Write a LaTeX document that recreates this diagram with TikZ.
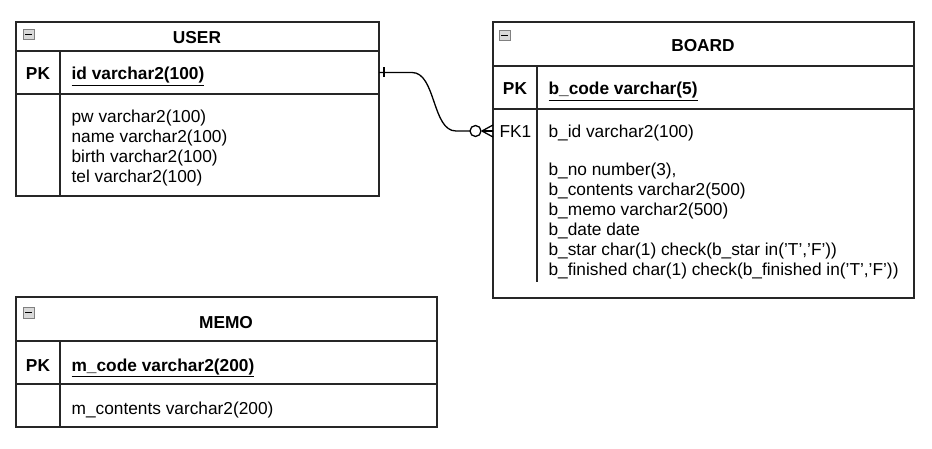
\documentclass[tikz,border=0pt]{standalone}
\usepackage{fontspec}
\setmainfont{Liberation Sans}
\begin{document}
\begin{tikzpicture}[x=1pt,y=-1pt,
  line width=1.2pt,
  box/.style={draw=black!85, anchor=north west, inner sep=0pt, outer sep=0pt},
  txt/.style={anchor=base west, inner sep=0pt, font=\fontsize{17.3}{20.1}\selectfont},
  ttl/.style={anchor=base, inner sep=0pt, font=\fontsize{17.3}{20.1}\selectfont\bfseries},
  key/.style={anchor=base, inner sep=0pt, font=\fontsize{17.3}{20.1}\selectfont\bfseries},
  icon/.style={draw=black!50, line width=0.8pt, fill=black!15, anchor=north west, minimum width=10.5pt, minimum height=10.5pt, inner sep=0pt},
  rel/.style={line width=1.3pt, black}
]
\useasboundingbox (0,0) rectangle (932,449);

% ---------- USER ----------
\node[box, minimum width=363pt, minimum height=174pt] (user) at (16,22) {};
\node[box, minimum width=363pt, minimum height=43pt] (userpk) at (16,51) {};
\draw[black!85] (60,51) -- (60,196);
\node[icon] (usericon) at (23,29) {};
\draw[line width=1.6pt] ([xshift=2pt]usericon.west) -- ([xshift=-2pt]usericon.east);
\node[ttl] (usert) at (197,44) {USER};
\node[key] (userpkl) at (38,80) {PK};
\node[txt] (userid) at (71,80) {\underline{\textbf{id varchar2(100)}}};
\node[txt, align=left, anchor=north west] (userbody) at (71,109) {pw varchar2(100)\\name varchar2(100)\\birth varchar2(100)\\tel varchar2(100)};

% ---------- BOARD ----------
\node[box, minimum width=421pt, minimum height=276pt] (board) at (493,22) {};
\node[box, minimum width=421pt, minimum height=43pt] (boardpk) at (493,66) {};
\draw[black!85] (537,66) -- (537,282);
\node[icon] (boardicon) at (499,30) {};
\draw[line width=1.6pt] ([xshift=2pt]boardicon.west) -- ([xshift=-2pt]boardicon.east);
\node[ttl] (boardt) at (703,52) {BOARD};
\node[key] (boardpkl) at (515,95) {PK};
\node[txt] (boardcode) at (548,95) {\underline{\textbf{b\_code varchar(5)}}};
\node[txt] (boardfk) at (499,138) {FK1};
\coordinate (fkin) at (493,131);
\node[txt] (boardid) at (548,138) {b\_id varchar2(100)};
\node[txt, align=left, anchor=north west] (boardbody) at (548,162) {b\_no number(3),\\b\_contents varchar2(500)\\b\_memo varchar2(500)\\b\_date date\\b\_star char(1) check(b\_star in('T','F'))\\b\_finished char(1) check(b\_finished in('T','F'))};

% ---------- MEMO ----------
\node[box, minimum width=421pt, minimum height=130pt] (memo) at (16,297) {};
\node[box, minimum width=421pt, minimum height=43pt] (memopk) at (16,341) {};
\draw[black!85] (60,341) -- (60,427);
\node[icon] (memoicon) at (23,307) {};
\draw[line width=1.6pt] ([xshift=2pt]memoicon.west) -- ([xshift=-2pt]memoicon.east);
\node[ttl] (memot) at (226,328) {MEMO};
\node[key] (memopkl) at (38,371) {PK};
\node[txt] (memocode) at (71,371) {\underline{\textbf{m\_code varchar2(200)}}};
\node[txt] (memobody) at (71,414) {m\_contents varchar2(200)};

% ---------- relation ----------
\coordinate (ustart) at (userpk.east);
\draw[rel] (ustart) -- ++(33,0) .. controls ++(24,0) and (432,131) .. (456,131) -- (470,131);
\draw[rel] ([xshift=5pt]ustart) ++(0,-5) -- ++(0,10);
\draw[rel] (475.5,131) circle[radius=5.5pt];
\draw[rel] (482,131) -- (fkin);
\draw[rel] (482,131) -- ([yshift=-6pt]fkin);
\draw[rel] (482,131) -- ([yshift=6pt]fkin);
\end{tikzpicture}
\end{document}
